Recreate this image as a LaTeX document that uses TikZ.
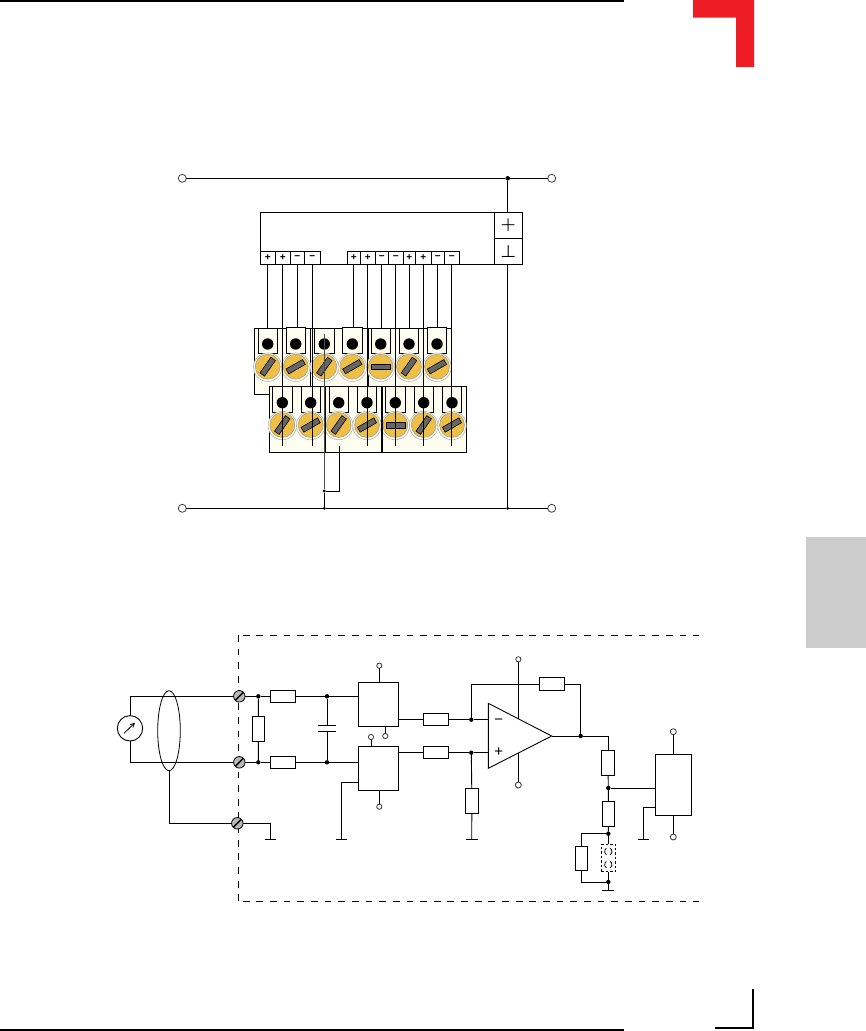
\documentclass[tikz,border=0pt]{standalone}
\usepackage{fontspec}
\usetikzlibrary{arrows.meta,shapes.geometric}
\newfontfamily\pinfont{Liberation Sans}
\definecolor{blockfill}{HTML}{FDFDF0}
\definecolor{screwyellow}{HTML}{EDBF47}
\definecolor{slotgrey}{HTML}{666666}
\definecolor{cornerred}{HTML}{EE1C25}
\definecolor{tabgrey}{HTML}{CCCCCC}
\tikzset{
  wire/.style={line width=.9pt,line cap=butt},
  base/.style={inner sep=0pt,outer sep=0pt},
  boxn/.style={base,draw,line width=.9pt,rectangle},
  pincell/.style={boxn,minimum height=13pt},
  pinsign/.style={base,font=\pinfont\bfseries\fontsize{10}{10}\selectfont},
  hres/.style={boxn,fill=white,minimum width=25.4pt,minimum height=12.4pt},
  vres/.style={boxn,fill=white,minimum width=12.8pt,minimum height=25.4pt},
  dotn/.style={base,circle,fill=black,minimum size=4.4pt},
  smalldot/.style={base,circle,fill=black,minimum size=3.2pt},
  term/.style={base,circle,draw=black!75,fill=white,line width=.8pt,minimum size=8pt},
  pinc/.style={base,circle,draw=black!80,fill=white,line width=.8pt,minimum size=5.2pt},
  tabn/.style={boxn,fill=blockfill,minimum width=19.4pt},
  hole/.style={base,circle,fill=black,minimum size=11.4pt},
  halo/.style={base,circle,draw=black!30,fill=white,line width=.6pt,minimum size=28.5pt},
  screw/.style={base,circle,draw=black!45,fill=screwyellow,line width=.4pt,minimum size=25pt},
  slot/.style={base,rectangle,draw=black,fill=slotgrey,line width=.6pt,minimum width=19pt,minimum height=5.6pt},
  sterm/.style={base,circle,draw=black,fill=black!28,line width=.8pt,minimum size=11.5pt},
  gndbar/.style={line width=.9pt},
  opsign/.style={base,font=\pinfont\fontsize{15}{15}\selectfont},
  bigsign/.style={base,font=\fontsize{18}{18}\selectfont\boldmath},
  housing/.style={line width=.9pt,dash pattern=on 6.8pt off 6.85pt},
  linkarc/.style={line width=.8pt},
}
\begin{document}
\begin{tikzpicture}[x=1pt,y=-1pt]
\path[use as bounding box] (0,0) rectangle (866,1031);
% page furniture
\fill[black] (0,0) rectangle (624,2);
\fill[black] (0,1028.8) rectangle (624,1030.8);
\fill[cornerred] (693,0) -- (754,0) -- (754,67) -- (736,67) -- (736,17.7) -- (693,17.7) -- cycle;
\fill[tabgrey] (806,537) rectangle (866,648);
\draw[line width=1.8pt] (715,1028) -- (752.8,1028) -- (752.8,989);

% ---------- upper diagram: rails and module
\node[term] (tl) at (182.3,178.3) {};
\node[term] (tr) at (551.7,178.3) {};
\node[term] (bl) at (182.3,508.3) {};
\node[term] (br) at (551.7,508.3) {};
\node[dotn,minimum size=4.6pt] (jt) at (507.7,178.3) {};
\node[smalldot] (jb) at (507.7,508.3) {};
\node[smalldot] (jc) at (324.3,508.3) {};
\node[smalldot] (jd) at (324.3,491) {};
\draw[wire] (tl) -- (jt) -- (tr);
\draw[wire] (bl) -- (jc) -- (jb) -- (br);

\node[boxn,minimum width=262pt,minimum height=52pt] (module) at (391.3,238.3) {};
\node[boxn,minimum width=28pt,minimum height=26pt] (vplus) at (508.3,225.3) {};
\node[boxn,minimum width=28pt,minimum height=26pt] (vgnd) at (508.3,251.3) {};
\node[bigsign] at (vplus) {$+$};
\node[bigsign] at (vgnd) {$\perp$};
\draw[wire] (jt) -- (jt |- vplus.north);
\draw[wire] (jb |- vgnd.south) -- (jb);

% terminal cells
\foreach \n/\l/\r/\s in {1/260.3/275.3/+,2/275.3/290.3/+,3/290.3/304.3/−,4/304.3/320.3/−,
  5/347.3/360.3/+,6/360.3/375.3/+,7/375.3/388.3/−,8/388.3/403.3/−,
  9/403.3/415.3/+,10/415.3/431.3/+,11/431.3/444.3/−,12/444.3/459.3/−}{
  \pgfmathsetmacro{\cx}{(\l+\r)/2}
  \pgfmathsetmacro{\cw}{\r-\l}
  \node[pincell,minimum width=\cw pt] (p\n) at (\cx,257.8) {};
  \node[pinsign] at (p\n) {\s};
}

% rear connector block
\fill[blockfill] (254.3,328.3) rectangle (451.3,394.3);
\draw[wire] (269.3,394.3) -- (254.3,394.3) -- (254.3,328.3) -- (451.3,328.3) -- (451.3,386);
\draw[wire] (310.7,328.3) -- (310.7,386);
\draw[line width=1.2pt] (368,328.3) -- (368,386);
\foreach \n/\x/\h/\a in {1/267.7/25/55,2/295.7/26/30,3/324.3/25/55,4/352.3/26/30,5/380.7/25/0,6/409/25/55,7/437/26/30}{
  \node[tabn,minimum height=\h pt,anchor=south] (bt\n) at (\x,353.3) {};
  \node[hole] (bh\n) at (\x,344) {};
  \node[halo] (bhalo\n) at (\x,367.2) {};
  \node[screw] (bs\n) at (\x,366.7) {};
  \node[slot,rotate=\a] (bslot\n) at (bs\n) {};
}

% front connector block
\node[boxn,fill=blockfill,minimum width=197.4pt,minimum height=66.3pt,anchor=north west] (front) at (269.3,386) {};
\foreach \n/\x/\a in {1/282.3/55,2/310.7/30,3/338.7/55,4/367/30,5/395.3/0,6/423.7/55,7/452/30}{
  \node[tabn,minimum height=26.4pt,anchor=north] (ft\n) at (\x,386) {};
  \node[hole] (fh\n) at (\x,402.7) {};
  \node[halo] (fhalo\n) at (\x,425.5) {};
  \node[screw] (fs\n) at (\x,425) {};
  \node[slot,rotate=\a] (fslot\n) at (fs\n) {};
}
\draw[line width=1.3pt] (382,386) -- (382,452.3);
\draw[line width=1.1pt] (325.5,386) -- (325.5,452.3);

% wires from the module to the blocks
\foreach \n/\t in {1/1,3/2,5/4,7/5,9/6,11/7}{
  \draw[wire] (p\n.south) -- (p\n.south |- bt\t.north);
}
\coordinate (wireend) at (0,445.7);
\foreach \n in {2,4,6,8,10,12}{
  \draw[wire] (p\n.south) -- (p\n.south |- wireend);
}
\draw[line width=.9pt,black!70] (bt3.center) ++(0,-7) coordinate (gs) -- (jd);
\draw[wire] (jd) -- (jc);
\coordinate (loopt) at (339.3,445.7);
\draw[wire] (loopt) -- (loopt |- jd) -- (jd);

% ---------- lower diagram
\coordinate (hTL) at (242.7,635.3);
\coordinate (hTR) at (699.4,635.3);
\coordinate (hVT) at (238.1,635);
\coordinate (hVB) at (238.1,901.2);
\coordinate (hBL) at (242.7,901.3);
\coordinate (hBR) at (699.4,901.3);
\draw[housing] (hTL) -- (hTR);
\draw[housing] (hVT) -- (hVB);
\draw[housing] (hBL) -- (hBR);

% input side
\node[base,circle,draw,line width=.9pt,fill=white,minimum size=25.4pt] (meter) at (130,728.3) {};
\draw[-{Straight Barb[length=4pt,width=4pt]},line width=.8pt] (124,733.3) -- (135,722.7);
\node[sterm] (s1) at (239.3,696.3) {};
\node[sterm] (s2) at (239.3,762.3) {};
\node[sterm] (s3) at (237.3,823.3) {};
\foreach \s in {s1,s2,s3}{\draw[line width=1.4pt] (\s.225) -- (\s.45);}
\node[dotn] (j1) at (258.3,696.3) {};
\node[dotn] (j2) at (258.3,762.3) {};
\node[dotn] (j3) at (327,696.3) {};
\node[dotn] (j4) at (327,762.3) {};
\node[hres] (r1) at (283,696.3) {};
\node[hres] (r2) at (283,762.3) {};
\node[vres] (r3) at (258.5,729) {};
\node[boxn,minimum width=40.4pt,minimum height=44.4pt] (a1) at (378.5,704.5) {};
\node[boxn,minimum width=40.4pt,minimum height=44pt] (a2) at (378.5,768.3) {};
\draw[wire] (meter.north) |- (s1) -- (j1) -- (r1) -- (j3) -- (j3 -| a1.west);
\draw[wire] (meter.south) |- (s2) -- (j2) -- (r2) -- (j4) -- (j4 -| a2.west);
\draw[wire] (j1) -- (r3) -- (j2);
\node[base,ellipse,draw,line width=.8pt,minimum width=22.6pt,minimum height=80pt] (shield) at (169,730.7) {};
\coordinate (g1) at (270.7,839.3);
\coordinate (g2) at (341.3,839.3);
\draw[wire] (shield.south) |- (s3) -| (g1);
\draw[gndbar] ([xshift=-6pt]g1) -- ([xshift=5.5pt]g1);
% capacitor
\coordinate (c1) at (327,725.7);
\coordinate (c2) at (327,731.3);
\draw[wire] (j3) -- (c1);
\draw[wire] (c2) -- (j4);
\draw[line width=.9pt] ([xshift=-9pt]c1) -- ([xshift=9pt]c1);
\draw[line width=.9pt] ([xshift=-9pt]c2) -- ([xshift=9pt]c2);
% buffer supplies
\node[pinc] (a1t) at (379.3,665.7) {};
\node[pinc] (a1b) at (385.3,736) {};
\node[pinc] (a2t) at (371,737) {};
\node[pinc] (a2b) at (379.3,806.7) {};
\draw[wire] (a1t) -- (a1t |- a1.north);
\draw[wire] (a1b |- a1.south) -- (a1b);
\draw[wire] (a2t) -- (a2t |- a2.north);
\draw[wire] (a2b |- a2.south) -- (a2b);
\coordinate (a2g) at (a2.west |- 0,782.3);
\draw[wire] (a2g) -| (g2);
\draw[gndbar] ([xshift=-5.5pt]g2) -- ([xshift=5.8pt]g2);

% amplifier
\coordinate (opa) at (488.3,703.3);
\coordinate (opb) at (488.3,768.3);
\coordinate (opo) at (551.7,736);
\draw[line width=.9pt,fill=white] (opa) -- (opb) -- (opo) -- cycle;
\node[opsign] at (498.7,721.3) {−};
\node[opsign] at (498.7,752.5) {+};
\node[hres] (r4) at (436,719.7) {};
\node[hres] (r5) at (436,752.7) {};
\node[hres,minimum height=13.4pt] (r6) at (552,684) {};
\node[vres,minimum width=13.4pt] (r7) at (471.9,801) {};
\node[dotn] (j5) at (471.3,719.7) {};
\node[dotn] (j6) at (471.3,752.7) {};
\node[dotn] (j7) at (580.7,736) {};
\draw[wire] (j5 -| a1.east) -- (r4) -- (j5) -- (j5 -| opa);
\draw[wire] (j6 -| a2.east) -- (r5) -- (j6) -- (j6 -| opa);
\draw[wire] (j5) |- (r6.west);
\draw[wire] (r6.east) -| (j7);
\coordinate (g3) at (471.7,839.3);
\draw[wire] (j6) -- (r7);
\draw[wire] (r7) -- (g3);
\draw[gndbar] ([xshift=-6pt]g3) -- ([xshift=6pt]g3);
\node[pinc] (opt) at (518.3,659.3) {};
\node[pinc,minimum size=6pt] (opm) at (518.3,785) {};
\draw[wire] (opt) -- (518.3,718.8);
\draw[wire] (518.3,753) -- (opm);

% output divider
\node[vres] (r8) at (608,763) {};
\node[vres] (r9) at (608.5,814) {};
\node[vres,minimum height=24pt] (r10) at (581.5,858.3) {};
\node[dotn] (j8) at (608.3,788) {};
\node[dotn] (j9) at (608.3,833.7) {};
\node[dotn] (j10) at (608.3,882) {};
\draw[wire] (opo) -- (j7) -| (r8.north);
\draw[wire] (r8) -- (j8) -- (r9) -- (j9);
\draw[wire] (j9) -| (r10.north);
\draw[wire] (r10.south) |- (j10);
\node[base,draw,dash pattern=on 2.5pt off 2pt,line width=.8pt,minimum width=14.4pt,minimum height=27.4pt] (link) at (608.5,858) {};
\draw[wire] (j9) -- (j9 |- link.north);
\draw[wire] (j10 |- link.south) -- (j10);
\node[base,circle,minimum size=7.5pt] (l1) at (608.3,851.5) {};
\node[base,circle,minimum size=7.5pt] (l2) at (608.3,864.7) {};
\foreach \l in {l1,l2}{
  \draw[linkarc] (\l.240) arc[start angle=120,end angle=240,radius=3.75];
  \draw[linkarc] (\l.300) arc[start angle=60,end angle=-60,radius=3.75];
}
\coordinate (g4) at (608.3,890);
\draw[wire] (j10) -- (g4);
\draw[gndbar] ([xshift=-6pt]g4) -- ([xshift=5.5pt]g4);

% output stage
\node[boxn,minimum width=36.4pt,minimum height=61pt] (a3) at (673.5,784.8) {};
\node[pinc,minimum size=6pt] (a3t) at (673.3,731.7) {};
\node[pinc,minimum size=6pt] (a3b) at (673.3,837) {};
\draw[wire] (a3t) -- (a3t |- a3.north);
\draw[wire] (a3b |- a3.south) -- (a3b);
\draw[wire] (j8) -- (j8 -| a3.west);
\coordinate (g5) at (643.7,839.3);
\coordinate (a3g) at (a3.west |- 0,807.3);
\draw[wire] (a3g) -| (g5);
\draw[gndbar] ([xshift=-5.5pt]g5) -- ([xshift=5.5pt]g5);
\end{tikzpicture}
\end{document}
